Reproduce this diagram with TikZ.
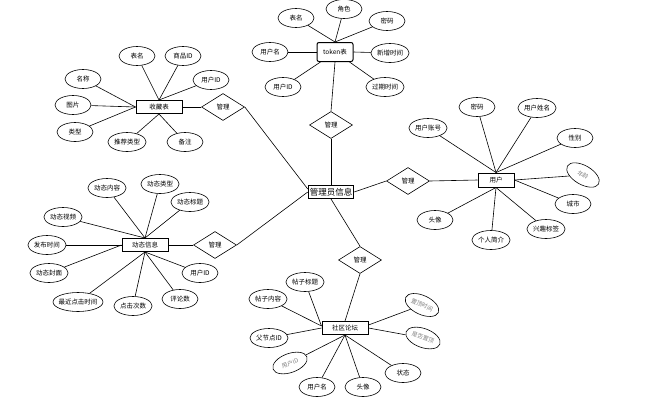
\documentclass[tikz,border=0pt]{standalone}
\usepackage{fontspec}
\setmainfont{Noto Sans CJK SC}
\usetikzlibrary{shapes.geometric}
\newcommand\myfs{\fontsize{6.5}{7}\selectfont}
\newcommand\mysm{\fontsize{5.8}{6}\selectfont}
\newcommand\mybf{\fontsize{8.5}{9}\selectfont}
\tikzset{
  attr/.style={draw, ellipse, line width=0.6pt, minimum width=36pt, minimum height=19pt, inner sep=0.5pt, font=\myfs},
  gattr/.style={attr, text=gray, font=\mysm},
  ent/.style={draw, rectangle, line width=1pt, minimum width=46pt, minimum height=13pt, inner sep=1pt, font=\myfs},
  rel/.style={draw, diamond, aspect=1.6, line width=0.6pt, minimum width=43pt, minimum height=27pt, inner sep=0pt, font=\myfs},
  conn/.style={line width=0.6pt}
}
\begin{document}
\begin{tikzpicture}[x=1pt,y=-1pt]
\useasboundingbox (0,0) rectangle (657,402);
% token
\node[ent, rounded corners=2pt, minimum width=36pt, minimum height=19pt] (tok) at (335,52) {token表};
\node[attr] (t1) at (296,18) {表名};
\node[attr] (t2) at (344,9) {角色};
\node[attr] (t3) at (387,21) {密码};
\node[attr] (t4) at (270,52) {用户名};
\node[attr] (t5) at (390,53) {新增时间};
\node[attr] (t6) at (283,87) {用户ID};
\node[attr] (t7) at (385,87) {过期时间};
% collection
\node[ent] (col) at (159,107) {收藏表};
\node[attr] (c1) at (137,56) {表名};
\node[attr] (c2) at (183,56) {商品ID};
\node[attr] (c3) at (211,80) {用户ID};
\node[attr] (c4) at (83,79) {名称};
\node[attr] (c5) at (73,105) {图片};
\node[attr] (c6) at (75,132) {类型};
\node[attr] (c7) at (127,142) {推荐类型};
\node[attr] (c8) at (185,142) {备注};
\node[rel] (rc) at (223,107) {管理};
% dynamic
\node[ent] (dyn) at (145,245) {动态信息};
\node[attr] (d1) at (107,188) {动态内容};
\node[attr] (d2) at (160,184) {动态类型};
\node[attr] (d3) at (190,202) {动态标题};
\node[attr] (d4) at (63,217) {动态视频};
\node[attr] (d5) at (47,245) {发布时间};
\node[attr] (d6) at (49,273) {动态封面};
\node[attr, inner xsep=-3pt, minimum width=50pt] (d7) at (78,302) {最近点击时间};
\node[attr] (d8) at (133,306) {点击次数};
\node[attr] (d9) at (180,299) {评论数};
\node[attr] (d10) at (200,273) {用户ID};
\node[rel] (rd) at (215,245) {管理};
% admin
\node[ent, font=\mybf, minimum width=0pt, inner sep=1.5pt] (adm) at (331,192) {管理员信息};
\node[rel] (rt) at (331,125) {管理};
\node[rel] (rr) at (408,181) {管理};
\node[rel] (rb) at (360,260) {管理};
% user
\node[ent, minimum width=36pt, minimum height=14pt] (usr) at (496,180) {用户};
\node[attr] (u1) at (428,128) {用户账号};
\node[attr] (u2) at (477,107) {密码};
\node[attr] (u3) at (537,108) {用户姓名};
\node[attr] (u4) at (575,138) {性别};
\node[gattr, rotate=-30] (u5) at (583,175) {年龄};
\node[attr] (u6) at (573,204) {城市};
\node[attr] (u7) at (546,229) {兴趣标签};
\node[attr] (u8) at (491,240) {个人简介};
\node[attr] (u9) at (435,220) {头像};
% community
\node[ent] (com) at (345,328) {社区论坛};
\node[attr] (s1) at (305,282) {帖子标题};
\node[attr] (s2) at (268,299) {帖子内容};
\node[attr] (s3) at (269,338) {父节点ID};
\node[gattr, rotate=20] (s4) at (290,363) {用户ID};
\node[attr] (s5) at (317,387) {用户名};
\node[attr] (s6) at (363,387) {头像};
\node[attr] (s7) at (403,373) {状态};
\node[gattr, rotate=-25] (s8) at (422,305) {置顶时间};
\node[gattr, rotate=-20] (s9) at (423,338) {是否置顶};
% connectors: token
\foreach \a in {t1,t2,t3} \draw[conn] (\a) -- (tok.north);
\draw[conn] (t4) -- (tok.west);
\draw[conn] (t5) -- (tok.east);
\draw[conn] (t6) -- ([xshift=4pt]tok.south west);
\draw[conn] (t7) -- ([xshift=-4pt]tok.south east);
% collection
\foreach \a in {c1,c2,c3} \draw[conn] (\a) -- (col.north);
\foreach \a in {c4,c5,c6} \draw[conn] (\a) -- (col.west);
\foreach \a in {c7,c8} \draw[conn] (\a) -- (col.south);
\draw[conn] (col.east) -- (rc.west);
\draw[conn] (rc.east) -- ([yshift=3pt]adm.west);
% dynamic
\foreach \a in {d1,d2,d3,d4} \draw[conn] (\a) -- (dyn.north);
\foreach \a in {d5,d6} \draw[conn] (\a) -- (dyn.west);
\foreach \a in {d7,d8,d9,d10} \draw[conn] (\a) -- (dyn.south);
\draw[conn] (dyn.east) -- (rd.west);
\draw[conn] (rd.east) -- (adm.west);
% admin relations
\draw[conn] (tok.south) -- (rt.north);
\draw[conn] (rt.south) -- (adm.north);
\draw[conn] (adm.east) -- (rr.west);
\draw[conn] (rr.east) -- (usr.west);
\draw[conn] (adm.south) -- (rb.north);
\draw[conn] (rb.south) -- (com.north);
% user
\foreach \a in {u1,u2,u3,u4} \draw[conn] (\a) -- (usr.north);
\foreach \a in {u5,u6} \draw[conn] (\a) -- (usr.east);
\foreach \a in {u7,u8,u9} \draw[conn] (\a) -- (usr.south);
% community
\foreach \a in {s1,s2} \draw[conn] (\a) -- ([yshift=2pt]com.west);
\draw[conn] (s3) -- (com.west);
\draw[conn] (s8) -- ([yshift=3pt]com.east);
\draw[conn] (s9) -- (com.east);
\foreach \a in {s4,s5,s6,s7} \draw[conn] (\a) -- (com.south);
\end{tikzpicture}
\end{document}
